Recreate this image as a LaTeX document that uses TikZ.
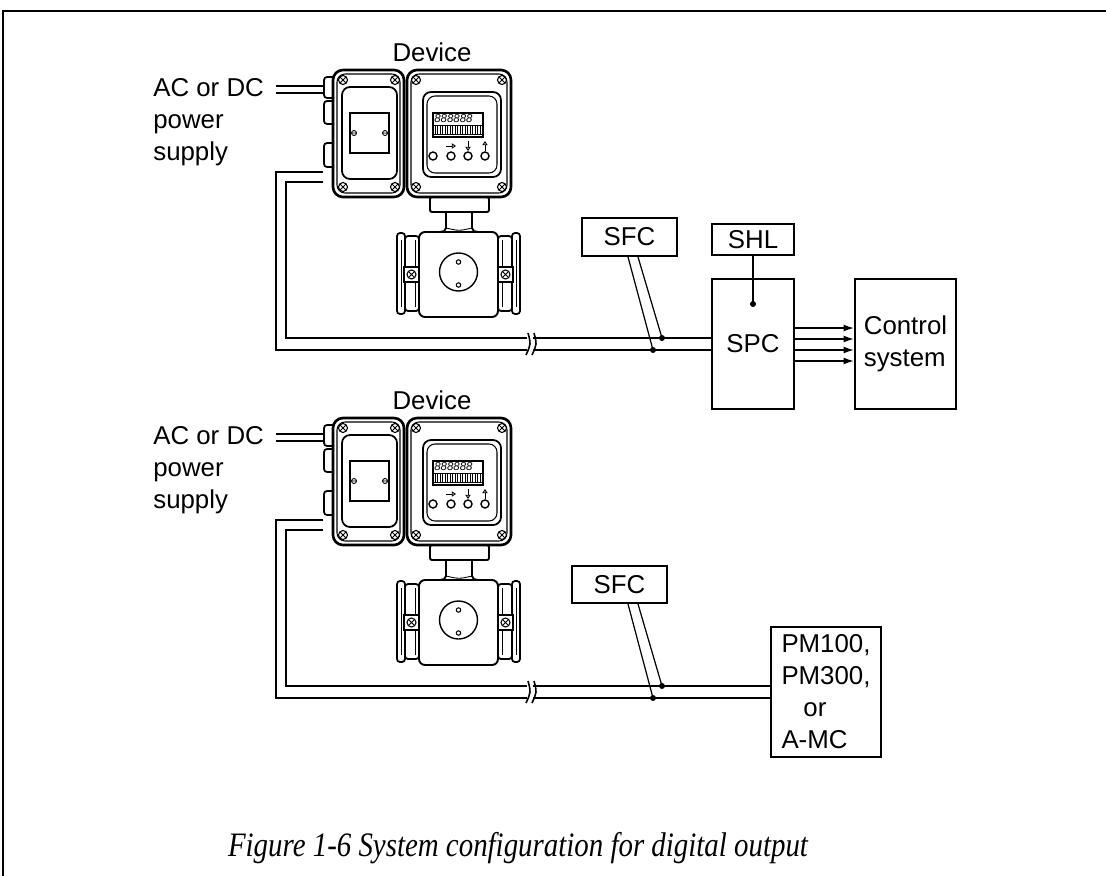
\documentclass[tikz,border=0pt]{standalone}
\usepackage{graphicx}
\usepackage{fontspec}
\setmainfont{Liberation Sans}
\newfontfamily\captionserif{Liberation Serif}
\usetikzlibrary{arrows.meta}

\tikzset{
	lbl/.style={font=\fontsize{14.7}{18.2}\selectfont, inner sep=0pt},
	unitbox/.style={shape=rectangle, draw, line width=1.1pt, lbl},
	wire/.style={line width=0.9pt},
	thinwire/.style={line width=0.7pt},
	joint/.style={shape=circle, fill, inner sep=0pt, minimum size=0.12cm},
	shell/.style={line width=1.5pt, rounded corners=0.2cm},
	trim/.style={line width=0.6pt, rounded corners=0.16cm},
	xscrew/.pic={
		\draw[line width=0.6pt] (0,0) circle (4.5);
		\draw[line width=0.5pt] (-3,-3) -- (3,3) (-3,3) -- (3,-3);
	},
	mscrew/.pic={
		\draw[line width=0.5pt] (0,0) circle (2.5) (-2,0) -- (2,0);
	},
}

\begin{document}
\begin{tikzpicture}[x=0.02cm, y=-0.02cm]
	\useasboundingbox (0,0) rectangle (1106,876);
	% frame
	\draw[line width=1.4pt] (3,876) -- (3,11) -- (1106,11);

	\foreach \dy/\k in {0/up,348/lo}{
	\begin{scope}[shift={(0,\dy)}]
		\node(dev\k)[lbl, anchor=north] at (432,42) {Device};
		\node(psu\k)[lbl, anchor=north west, align=left] at (153,78) {AC or DC\\power\\supply};
		% cable glands
		\foreach \ya/\yb in {77/98,101/124,143/167}
			\draw[line width=1pt, rounded corners=0.06cm] (334,\ya) -- (324,\ya) -- (324,\yb) -- (334,\yb);
		% terminal box
		\draw[shell] (333,70) rectangle (404,197);
		\draw[trim] (337,74) rectangle (400,193);
		\draw[trim, line width=1pt] (342,87) rectangle (397,179);
		\draw[line width=0.9pt] (350,113) rectangle (389,153);
		\pic at (354,133) {mscrew};
		\pic at (385,133) {mscrew};
		\foreach \sx/\sy in {343/80,395/80,343/187,395/187}
			\pic at (\sx,\sy) {xscrew};
		% display box
		\draw[shell] (407,70) rectangle (511,197);
		\draw[trim] (411,74) rectangle (507,193);
		\draw[trim, line width=1pt] (423,92) rectangle (501,177);
		\draw[trim] (427,96) rectangle (497,173);
		\foreach \sx/\sy in {416/80,502/80,416/187,502/187}
			\pic at (\sx,\sy) {xscrew};
		\draw[line width=0.7pt] (433,113) rectangle (483,137);
		\draw[line width=0.5pt] (433,125) -- (483,125);
		\node(lcd\k)[anchor=west, inner sep=0pt, font=\fontsize{6.5}{7}\selectfont\itshape] at (434,119) {888888};
		\foreach \tx in {435,437.5,...,481}
			\draw[line width=0.35pt] (\tx,126) -- (\tx,134);
		\draw[line width=0.5pt] (434,134) -- (482,134);
		\foreach \bx in {433,451,468,485}
			\draw[line width=0.8pt] (\bx,156) circle (4);
		\draw[line width=0.5pt, -{Triangle[open, length=2.4pt, width=3pt]}] (446,146) -- (456,146);
		\draw[line width=0.5pt, -{Triangle[open, length=2.4pt, width=3pt]}] (468,141) -- (468,151);
		\draw[line width=0.5pt, -{Triangle[open, length=2.4pt, width=3pt]}] (485,151) -- (485,141);
		% flow tube
		\draw[line width=1.1pt, rounded corners=0.04cm] (430,197) rectangle (489,212);
		\draw[line width=1.1pt] (446,212) -- (446,228) .. controls (446,231) and (443,232) .. (440,232);
		\draw[line width=1.1pt] (472,212) -- (472,228) .. controls (472,231) and (475,232) .. (478,232);
		\draw[line width=0.5pt] (446,228) .. controls (459,231) .. (472,228);
		\draw[line width=1.1pt, rounded corners=0.12cm] (419,232) rectangle (498,317);
		\draw[line width=0.8pt] (458.5,272) circle (19);
		\draw[line width=0.6pt] (458.5,262) circle (2.2) (458.5,285) circle (2.2);
		\foreach \fx/\s in {0/1,917/-1}{
			\draw[line width=1pt, rounded corners=0.06cm] (\fx+\s*397,233) rectangle (\fx+\s*405,314);
			\draw[line width=1pt, rounded corners=0.06cm] (\fx+\s*405,236) rectangle (\fx+\s*419,311);
			\draw[line width=0.5pt] (\fx+\s*401,240) -- (\fx+\s*401,307) (\fx+\s*415,240) -- (\fx+\s*415,307);
			\draw[line width=0.8pt, fill=white] (\fx+\s*404,267) rectangle (\fx+\s*419,282);
			\pic at (\fx+\s*411.5,274.5) {xscrew};
		}
		% supply and signal lines
		\coordinate (acA\k) at (276,86);
		\coordinate (acB\k) at (276,93);
		\draw[wire] (acA\k) -- (323,86) (acB\k) -- (323,93);
		\coordinate (brko\k) at (527,350);
		\coordinate (brki\k) at (527,338);
		\coordinate (resto\k) at (533,350);
		\coordinate (resti\k) at (533,338);
		\draw[wire] (323,172) -- (276,172) -- (276,350) -- (brko\k);
		\draw[wire] (323,182) -- (286,182) -- (286,338) -- (brki\k);
		\foreach \bx in {527,533}
			\draw[wire] (\bx+1,333) .. controls (\bx+4,344) .. (\bx-1,355);
		\node(tapo\k)[joint] at (653,350) {};
		\node(tapi\k)[joint] at (662,338) {};
	\end{scope}
	}

	% upper system
	\node(sfcup)[unitbox, minimum width=1.9cm, minimum height=0.76cm] at (629.5,237) {SFC};
	\node(shl)[unitbox, minimum width=1.64cm, minimum height=0.62cm] at (753,239.5) {SHL};
	\node(spc)[unitbox, minimum width=1.64cm, minimum height=2.6cm] at (753,344) {SPC};
	\node(ctrl)[unitbox, minimum width=2.02cm, minimum height=2.6cm, align=left] at (905.5,344) {Control\\system};
	\node(shldot)[joint] at (753,304) {};

	\draw[wire] (restoup) -- (restoup -| spc.west);
	\draw[wire] (restiup) -- (restiup -| spc.west);
	\draw[thinwire] (sfcup.south) ++(-1.5,0) -- (tapoup.center);
	\draw[thinwire] (sfcup.south) ++(8.5,0) -- (tapiup.center);
	\draw[thinwire] (shl.south) -- (shldot.center);
	\foreach \s in {0.32,0.1,-0.12,-0.34}
		\draw[wire, -{Latex[length=6pt, width=4pt]}] ([yshift=\s cm]spc.east) -- ([yshift=\s cm]ctrl.west);

	% lower system
	\node(sfclo)[unitbox, minimum width=1.9cm, minimum height=0.74cm] at (619.5,584.5) {SFC};
	\node(pm)[unitbox, minimum width=2.2cm, minimum height=2.6cm, align=left] at (826,692) {PM100,\\PM300,\\\hspace*{0.44cm}or\\A-MC};

	\draw[wire] (restolo) -- (restolo -| pm.west);
	\draw[wire] (restilo) -- (restilo -| pm.west);
	\draw[thinwire] (sfclo.south) ++(8.5,0) -- (tapolo.center);
	\draw[thinwire] (sfclo.south) ++(18.5,0) -- (tapilo.center);

	\node(caption)[anchor=base, inner sep=0pt] at (518,856)
		{\resizebox{11.6cm}{\height}{\captionserif\itshape\fontsize{19.5}{22}\selectfont Figure 1-6 System configuration for digital output}};
\end{tikzpicture}
\end{document}
